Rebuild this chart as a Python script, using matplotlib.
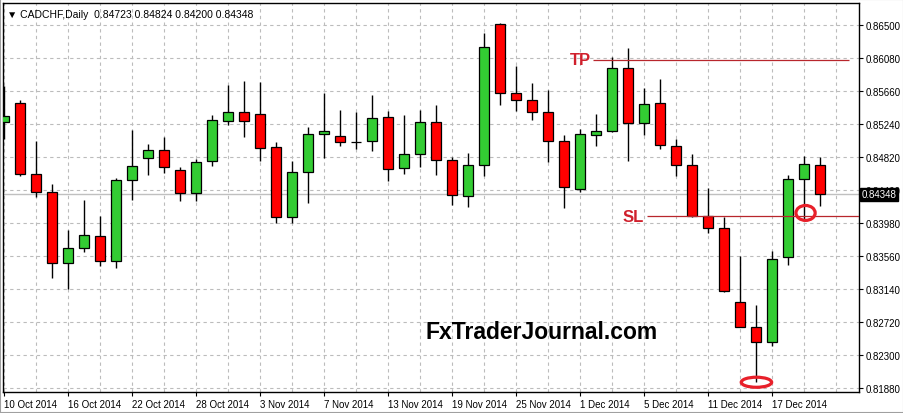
import matplotlib
matplotlib.use("Agg")
import matplotlib.pyplot as plt
from matplotlib.patches import Ellipse, Rectangle

# daily CADCHF candles (index 0 = 10 Oct 2014)
opens = [0.85262, 0.85504, 0.84600, 0.84371, 0.83471, 0.83658, 0.83811, 0.83497, 0.84524, 0.84811,
         0.84905, 0.84651, 0.84358, 0.84765, 0.85278, 0.85389, 0.85364, 0.84944, 0.84053, 0.84625,
         0.85109, 0.85084, 0.85017, 0.85020, 0.85325, 0.84676, 0.84855, 0.85262, 0.84782, 0.84320,
         0.84718, 0.86513, 0.85635, 0.85546, 0.85389, 0.85020, 0.84407, 0.85094, 0.85145, 0.85949,
         0.85249, 0.85501, 0.84964, 0.84722, 0.84073, 0.83913, 0.82971, 0.82653, 0.82462, 0.83544,
         0.84536, 0.84723]
highs = [0.85728, 0.85546, 0.85028, 0.84477, 0.83891, 0.84273, 0.84073, 0.84553, 0.85164, 0.84986,
         0.85079, 0.84689, 0.84795, 0.85355, 0.85730, 0.85791, 0.85771, 0.85007, 0.84765, 0.85206,
         0.85631, 0.85422, 0.85389, 0.85613, 0.85409, 0.85359, 0.85418, 0.85486, 0.84820, 0.84871,
         0.86398, 0.86526, 0.85975, 0.85762, 0.85673, 0.85100, 0.85177, 0.85367, 0.86089, 0.86207,
         0.85692, 0.85813, 0.85049, 0.84858, 0.84426, 0.84053, 0.83556, 0.82937, 0.83628, 0.84591,
         0.84837, 0.84824]
lows = [0.85049, 0.84575, 0.84307, 0.83276, 0.83140, 0.83615, 0.83429, 0.83411, 0.84273, 0.84595,
        0.84620, 0.84264, 0.84264, 0.84702, 0.85224, 0.85079, 0.84765, 0.83976, 0.83976, 0.84231,
        0.84807, 0.84964, 0.84922, 0.84900, 0.84511, 0.84604, 0.84697, 0.84595, 0.84213, 0.84180,
        0.84582, 0.85486, 0.85409, 0.85295, 0.84753, 0.84167, 0.84379, 0.84964, 0.85132, 0.84773,
        0.85103, 0.84922, 0.84582, 0.84053, 0.83853, 0.83108, 0.82650, 0.81953, 0.82419, 0.83449,
        0.84031, 0.84200]
closes = [0.85346, 0.84600, 0.84371, 0.83471, 0.83658, 0.83827, 0.83497, 0.84524, 0.84702, 0.84905,
          0.84689, 0.84358, 0.84753, 0.85287, 0.85389, 0.85275, 0.84931, 0.84053, 0.84625, 0.85109,
          0.85147, 0.85007, 0.85014, 0.85313, 0.84664, 0.84855, 0.85262, 0.84778, 0.84337, 0.84718,
          0.86216, 0.85631, 0.85546, 0.85389, 0.85020, 0.84435, 0.85107, 0.85147, 0.85949, 0.85249,
          0.85492, 0.84967, 0.84722, 0.84073, 0.83913, 0.83111, 0.82653, 0.82462, 0.83522, 0.84540,
          0.84727, 0.84348]

date_ticks = [0, 4, 8, 12, 16, 20, 24, 28, 32, 36, 40, 44, 48]
date_labels = ["10 Oct 2014", "16 Oct 2014", "22 Oct 2014", "28 Oct 2014", "3 Nov 2014", "7 Nov 2014",
               "13 Nov 2014", "19 Nov 2014", "25 Nov 2014", "1 Dec 2014", "5 Dec 2014", "11 Dec 2014",
               "17 Dec 2014"]
price_ticks = [0.81880, 0.82300, 0.82720, 0.83140, 0.83560, 0.83980, 0.84400, 0.84820, 0.85240,
               0.85660, 0.86080, 0.86500]

take_profit = 0.8606
stop_loss = 0.84065
last_price = 0.84348
header = "\u25bc CADCHF,Daily  0.84723 0.84824 0.84200 0.84348"

plt.rcParams["font.family"] = ["Liberation Sans", "DejaVu Sans"]

fig = plt.figure(figsize=(9.04, 4.14), dpi=100)
ax = fig.add_axes([3 / 904, 21 / 414, 856 / 904, 389 / 414])

# grid: horizontal at price ticks, vertical every 2 bars
for p in price_ticks:
    ax.axhline(p, color="#bcbcbc", lw=0.8, ls=(0, (3, 3)), zorder=0)
for i in range(0, 54, 2):
    ax.axvline(i, color="#bcbcbc", lw=0.8, ls=(0, (3, 3)), zorder=0)

ax.axhline(last_price, color="#c0c0c0", lw=1.0, zorder=1)

x = list(range(len(opens)))
ax.vlines(x, lows, highs, color="black", lw=1.0, zorder=2)
colors = ["#33cc33" if c >= o else "#ff0000" for o, c in zip(opens, closes)]
heights = [c - o for o, c in zip(opens, closes)]
ax.bar(x, heights, bottom=opens, width=0.62, color=colors, edgecolor="black", linewidth=0.9, zorder=3)

# TP / SL levels
ax.hlines(take_profit, 36.8, 52.8, color="#b8262c", lw=0.9, zorder=4)
ax.text(36.0, take_profit, "TP", color="#d0202c", fontsize=12, fontweight="bold",
        ha="center", va="center", zorder=5)
ax.hlines(stop_loss, 40.2, 53.5, color="#b8262c", lw=0.9, zorder=4)
ax.text(39.3, stop_loss, "SL", color="#d0202c", fontsize=12, fontweight="bold",
        ha="center", va="center", zorder=5)

ax.add_patch(Ellipse((47.03, 0.81953), 1.9, 0.00128, fill=False, ec="#e8202a", lw=2.3, zorder=6))
ax.add_patch(Ellipse((50.1, 0.84108), 1.2, 0.0019, fill=False, ec="#e8202a", lw=2.3, zorder=6))

ax.text(33.6, 0.82593, "FxTraderJournal.com", fontsize=16.5, fontweight="bold", color="black",
        ha="center", va="center", zorder=7)

ax.set_xlim(-0.06, 53.44)
ax.set_ylim(0.81829, 0.86780)

ax.yaxis.tick_right()
ax.set_yticks(price_ticks)
ax.set_yticklabels(["%.5f" % p for p in price_ticks])
ax.set_xticks(date_ticks)
ax.set_xticklabels(date_labels, ha="left")
ax.tick_params(axis="both", labelsize=7, length=3, width=0.8, pad=2, colors="black", direction="out")

for s in ax.spines.values():
    s.set_color("black")
    s.set_linewidth(1.0)

# current price box on the right axis (covers the 0.84400 label, as in the terminal)
ax.text(1.003, last_price, "%.5f" % last_price, transform=ax.get_yaxis_transform(), fontsize=7,
        color="white", ha="left", va="center", zorder=10, clip_on=False,
        bbox=dict(boxstyle="square,pad=0.15", fc="black", ec="black"))

ax.text(0.005, 0.985, header, transform=ax.transAxes, fontsize=7.5, color="black",
        ha="left", va="top", family=["Liberation Sans", "DejaVu Sans"])

fig.patches.append(Rectangle((0, 0), 1, 1, transform=fig.transFigure, fill=False,
                             ec="#a0a0a0", lw=1.5))

fig.savefig("out.png", dpi=100)
